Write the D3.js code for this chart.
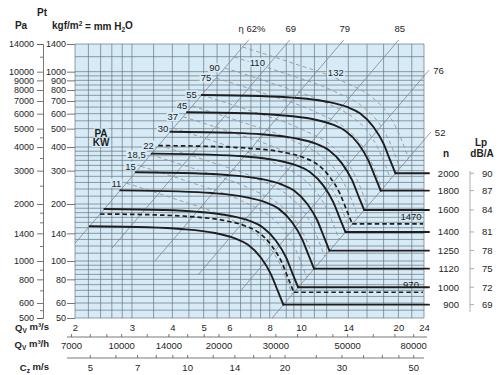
<!DOCTYPE html>
<html>
<head>
<script src="https://d3js.org/d3.v7.min.js"></script>
<title>Fan performance chart</title>
<style>
	body { margin: 0; background: #fff; }
	svg { display: block; font-family: "Liberation Sans", Arial, Helvetica, sans-serif; }
</style>
</head>
<body>
<svg width="500" height="375"></svg>
<script>
// fan speeds (rpm) and their pressure curves, Qv in m3/s, Pt in kgf/m2
const rpm = [2000, 1800, 1600, 1470, 1400, 1250, 1120, 1000, 970, 900];
const optionalRpm = [1470, 970];
const curveQ = [
	[4.93, 7.47, 9.44, 12.04, 13.87, 15.21, 16.73, 17.96, 18.84, 19.59],
	[4.44, 6.72, 8.50, 10.84, 12.48, 13.69, 15.06, 16.16, 16.96, 17.63],
	[3.94, 5.98, 7.55, 9.63, 11.10, 12.17, 13.38, 14.37, 15.07, 15.67],
	[3.62, 5.49, 6.94, 8.85, 10.19, 11.18, 12.30, 13.20, 13.85, 14.40],
	[3.45, 5.23, 6.61, 8.43, 9.71, 10.65, 11.71, 12.57, 13.19, 13.71],
	[3.08, 4.67, 5.90, 7.53, 8.67, 9.51, 10.46, 11.23, 11.78, 12.24],
	[2.76, 4.18, 5.29, 6.74, 7.77, 8.52, 9.37, 10.06, 10.55, 10.97],
	[2.465, 3.735, 4.72, 6.02, 6.935, 7.605, 8.365, 8.98, 9.42, 9.795],
	[2.39, 3.62, 4.58, 5.84, 6.73, 7.38, 8.11, 8.71, 9.14, 9.50],
	[2.22, 3.36, 4.25, 5.42, 6.24, 6.84, 7.53, 8.08, 8.48, 8.82]
];
const curvePt = [
	[753, 744, 729, 694, 651, 603, 512, 419, 342, 290.6],
	[610, 603, 590, 562, 527, 488, 415, 339, 277, 235.4],
	[482, 476, 467, 444, 417, 386, 328, 268, 219, 186.0],
	[406.8, 401.9, 393.8, 374.9, 351.7, 325.7, 276.6, 226.3, 184.7, 157.0],
	[369, 364.6, 357.2, 340.1, 319.0, 295.5, 250.9, 205.3, 167.6, 142.4],
	[294.1, 290.6, 284.8, 271.1, 254.3, 235.5, 200.0, 163.7, 133.6, 113.5],
	[236.1, 233.3, 228.6, 217.6, 204.2, 189.1, 160.6, 131.4, 107.3, 91.1],
	[188.3, 186, 182.3, 173.5, 162.8, 150.8, 128, 104.8, 85.5, 72.65],
	[177.1, 175.0, 171.5, 163.2, 153.1, 141.8, 120.4, 98.6, 80.4, 68.4],
	[152.5, 150.7, 147.6, 140.5, 131.8, 122.1, 103.7, 84.8, 69.3, 58.8]
];

// sound pressure level per speed
const lpRpm = [2000, 1800, 1600, 1400, 1250, 1120, 1000, 900];
const lpDb = [90, 87, 84, 81, 78, 75, 72, 69];

// absorbed power curves (kW)
const kw = [11, 15, 18.5, 22, 30, 37, 45, 55, 75, 90, 110, 132];
const kwQ = [
	[2.883, 4.012, 5.933, 7.287, 8.015, 8.605, 9.386],
	[3.197, 4.448, 6.577, 8.081, 8.889, 9.542, 10.408],
	[3.428, 4.771, 7.054, 8.667, 9.533, 10.234, 11.163],
	[3.632, 5.055, 7.473, 9.182, 10.100, 10.842, 11.827],
	[4.028, 5.605, 8.288, 10.182, 11.199, 12.022, 13.114],
	[4.319, 6.013, 8.888, 10.919, 12.010, 12.893, 14.064],
	[4.611, 6.416, 9.486, 11.655, 12.820, 13.763, 15.012],
	[4.93, 6.860, 10.142, 12.461, 13.707, 14.715, 16.050],
	[5.467, 7.607, 11.248, 13.820, 15.201, 16.318, 17.799],
	[5.810, 8.085, 11.952, 14.685, 16.153, 17.340, 18.914],
	[6.211, 8.644, 12.779, 15.701, 17.270, 18.540, 20.223],
	[6.601, 9.185, 13.580, 16.684, 18.351, 19.700, 21.488]
];
const kwPt = [
	[257.5, 214.6, 168.6, 138.4, 117.5, 96.2, 66.7],
	[316.7, 263.8, 207.2, 170.2, 144.5, 118.3, 82.0],
	[364.1, 303.5, 238.3, 195.8, 166.2, 136.0, 94.4],
	[408.8, 340.7, 267.4, 219.8, 186.6, 152.7, 105.9],
	[502.8, 418.9, 328.9, 270.2, 229.4, 187.8, 130.2],
	[578.0, 482.0, 378.2, 310.8, 263.9, 216.0, 149.8],
	[658.9, 548.9, 430.8, 354.1, 300.6, 246.0, 170.6],
	[753, 627.4, 492.5, 404.8, 343.7, 281.3, 195.1],
	[926.1, 771.6, 605.7, 497.8, 422.7, 345.9, 239.9],
	[1045.8, 871.5, 683.9, 562.1, 477.3, 390.6, 270.9],
	[1195.3, 996.1, 781.9, 642.6, 545.6, 446.5, 309.7],
	[1349.9, 1124.9, 882.9, 725.5, 616.0, 504.1, 349.6]
];

// efficiency lines: end points (Qv, Pt)
const etaLabels = ["\u03b7 62%", "69", "79", "85", "76", "52"];
const etaQ = [[2, 6.9], [2.60, 9.23], [3.54, 13.55], [4.80, 20.04], [6.47, 24.9], [8.14, 25.2]];
const etaPt = [[124, 1476], [116.7, 1470], [100.4, 1470], [84.3, 1470], [68.9, 1020], [50, 480]];

// grid and tick values
const gridQ = [2, 2.2, 2.4, 2.6, 2.8, 3, 3.5, 4, 4.5, 5, 5.5, 6, 6.5, 7, 7.5, 8, 9, 9.5, 10, 11, 12, 14, 16, 18, 20, 22, 24];
const gridPt = [50, 55, 60, 65, 70, 75, 80, 85, 90, 95, 100, 110, 120, 130, 140, 150, 160, 170, 180, 190, 200,
	220, 240, 260, 280, 300, 320, 340, 360, 380, 400, 450, 500, 550, 600, 650, 700, 750, 800, 850, 900, 950, 1000, 1200, 1400];
const kgfTicks = [50, 60, 80, 100, 140, 200, 300, 400, 500, 600, 700, 800, 900, 1000, 1400];
const paTicks = [500, 600, 800, 1000, 1400, 2000, 3000, 4000, 5000, 6000, 7000, 8000, 9000, 10000, 14000];
const paMinor = [550, 700, 900, 1200, 1600, 1800, 2500, 3500, 4500, 12000];
const qsTicks = [2, 3, 4, 5, 6, 8, 10, 14, 20, 24];
const qhTicks = [7000, 10000, 14000, 20000, 30000, 50000, 80000];
const qhMinor = [8000, 9000, 12000, 16000, 18000, 25000, 35000, 40000, 45000, 60000, 70000];
const czTicks = [5, 7, 10, 14, 20, 30, 50];
const czMinor = [6, 8, 9, 12, 16, 18, 25, 35, 40, 45];

const svg = d3.select("svg");
const plotBg = "#d7ebf7", ink = "#1e1e1e";

const x = d3.scaleLog().domain([2, 24]).range([75, 424]);
const y = d3.scaleLog().domain([50, 1400]).range([318, 44]);
const yPa = d3.scaleLog().domain([500, 14000]).range([318, 44]);
const xh = d3.scaleLog().domain([2 * 3600, 24 * 3600]).range([75, 424]);
const xc = d3.scaleLog().domain([2 * 2.25, 24 * 2.25]).range([75, 424]);

svg.append("rect").attr("width", 500).attr("height", 375).attr("fill", "#fff");
svg.append("rect").attr("x", 75).attr("y", 44).attr("width", 349).attr("height", 274).attr("fill", plotBg);

// grid
const grid = svg.append("g").attr("stroke", "#5f6c75").attr("stroke-width", 0.65);
grid.selectAll(".h").data(gridPt).enter().append("line")
	.attr("x1", 75).attr("x2", 424)
	.attr("y1", d => y(d)).attr("y2", d => y(d));
grid.selectAll(".v").data(gridQ).enter().append("line")
	.attr("y1", 44).attr("y2", 318)
	.attr("x1", d => x(d)).attr("x2", d => x(d));

function styleAxis(g, size) {
	g.attr("font-family", null).attr("font-size", size).attr("color", ink);
	g.selectAll("line").attr("stroke", "#555").attr("stroke-width", 0.8);
}

// left axes
svg.append("g").attr("transform", "translate(75,0)")
	.call(d3.axisLeft(y).tickValues(kgfTicks).tickFormat(d3.format("d")).tickSize(8).tickPadding(1))
	.call(g => g.select(".domain").remove())
	.call(g => styleAxis(g, 9));
svg.append("g").attr("transform", "translate(43,0)")
	.call(d3.axisLeft(yPa).tickValues(paTicks).tickFormat(d3.format("d")).tickSize(6).tickPadding(3))
	.call(g => styleAxis(g, 9))
	.call(g => g.select(".domain").attr("stroke", "#555").attr("stroke-width", 0.8));
svg.append("g").attr("transform", "translate(43,0)")
	.call(d3.axisLeft(yPa).tickValues(paMinor).tickFormat("").tickSize(3))
	.call(g => g.select(".domain").remove())
	.call(g => styleAxis(g, 9));

// bottom axes
svg.append("g").attr("transform", "translate(0,318)")
	.call(d3.axisBottom(x).tickValues(qsTicks).tickFormat(d3.format("d")).tickSize(0).tickPadding(6))
	.call(g => g.select(".domain").remove())
	.call(g => styleAxis(g, 9.5));
svg.append("g").attr("transform", "translate(0,337)")
	.call(d3.axisBottom(xh).tickValues(qhTicks.concat(qhMinor)).tickFormat(d => qhTicks.includes(d) ? d : "").tickSize(-3).tickPadding(5))
	.call(g => g.select(".domain").remove())
	.call(g => styleAxis(g, 9.5));
svg.append("g").attr("transform", "translate(0,358)")
	.call(d3.axisBottom(xc).tickValues(czTicks.concat(czMinor)).tickFormat(d => czTicks.includes(d) ? d : "").tickSize(-3).tickPadding(6))
	.call(g => g.select(".domain").remove())
	.call(g => styleAxis(g, 9.5));
svg.append("line").attr("x1", 67).attr("x2", 427).attr("y1", 337).attr("y2", 337).attr("stroke", "#555").attr("stroke-width", 0.8);
svg.append("line").attr("x1", 67).attr("x2", 424).attr("y1", 358).attr("y2", 358).attr("stroke", "#555").attr("stroke-width", 0.8);

// efficiency lines
const etaG = svg.append("g");
etaQ.forEach(function(q, i) {
	const p = etaPt[i];
	etaG.append("line")
		.attr("x1", x(q[0])).attr("y1", y(p[0]))
		.attr("x2", x(q[1])).attr("y2", y(p[1]))
		.attr("stroke", "#7b878f").attr("stroke-width", 0.8);
	const t = etaG.append("text").attr("font-size", 9.5).attr("fill", ink).attr("dy", "0.35em").text(etaLabels[i]);
	if (i < 4) {
		t.attr("x", x(q[1]) + (i == 0 ? 3 : 1)).attr("y", y(p[1]) - 11).attr("text-anchor", "middle");
	} else {
		t.attr("x", x(q[1]) + 4).attr("y", y(p[1]) + 1);
	}
});

const line = d3.line().x(d => x(d[0])).y(d => y(d[1])).curve(d3.curveMonotoneX);

// power curves
const kwG = svg.append("g");
kw.forEach(function(v, i) {
	kwG.append("path")
		.attr("d", line(d3.zip(kwQ[i], kwPt[i])))
		.attr("fill", "none").attr("stroke", "#8d989f").attr("stroke-width", 0.9)
		.attr("stroke-dasharray", "4,3");
});

// speed curves
const nG = svg.append("g");
rpm.forEach(function(n, i) {
	const pts = d3.zip(curveQ[i], curvePt[i]);
	const dashed = optionalRpm.includes(n);
	const knee = pts[pts.length - 1];
	const tailEnd = dashed ? 423 : 429;
	[line(pts), "M" + x(knee[0]) + "," + y(knee[1]) + "H" + tailEnd].forEach(function(d) {
		nG.append("path").attr("d", d)
			.attr("fill", "none").attr("stroke", ink)
			.attr("stroke-width", dashed ? 1.7 : 1.9)
			.attr("stroke-dasharray", dashed ? "4.5,3" : null)
			.attr("stroke-linecap", dashed ? "butt" : "round");
	});
	const ty = y(knee[1]);
	if (dashed) {
		nG.append("text").attr("x", 411).attr("y", ty - 4).attr("text-anchor", "middle")
			.attr("font-size", 9.5).attr("fill", ink).text(n);
	} else {
		nG.append("text").attr("x", 459).attr("y", ty).attr("dy", "0.35em").attr("text-anchor", "end")
			.attr("font-size", 9.5).attr("fill", ink).text(n);
	}
});

// Lp column
const lpG = svg.append("g");
lpG.append("line").attr("x1", 470).attr("x2", 470).attr("y1", 171).attr("y2", 312).attr("stroke", "#999").attr("stroke-width", 0.8);
lpDb.forEach(function(v, i) {
	const k = rpm.indexOf(lpRpm[i]);
	const ty = y(curvePt[k][curvePt[k].length - 1]);
	lpG.append("line").attr("x1", 470).attr("x2", 474).attr("y1", ty).attr("y2", ty).attr("stroke", "#999").attr("stroke-width", 0.8);
	lpG.append("text").attr("x", 482).attr("y", ty).attr("dy", "0.35em").attr("font-size", 9.5).attr("fill", ink).text(v);
});

// labels sitting on the plot get a background patch
function boxedText(g, tx, ty, txt, anchor, opts) {
	const t = g.append("text").attr("x", tx).attr("y", ty).attr("dy", "0.35em")
		.attr("text-anchor", anchor).attr("font-size", opts && opts.size || 9.5)
		.attr("font-weight", opts && opts.bold ? "bold" : null)
		.attr("fill", ink).text(txt);
	const b = t.node().getBBox();
	g.insert("rect", () => t.node())
		.attr("x", b.x - 1).attr("y", b.y + 1).attr("width", b.width + 2).attr("height", b.height - 2)
		.attr("fill", plotBg);
	return t;
}

const labG = svg.append("g");
const inlineKw = { 110: [0, 0.5, -2], 132: [1, 0.85, -6] };
kw.forEach(function(v, i) {
	const txt = String(v).replace(".", ",");
	if (inlineKw[v]) {
		const [j, t, off] = inlineKw[v];
		const x0 = x(kwQ[i][j]), y0 = y(kwPt[i][j]);
		const x1 = x(kwQ[i][j + 1]), y1 = y(kwPt[i][j + 1]);
		boxedText(labG, x0 + (x1 - x0) * t, y0 + (y1 - y0) * t + off, txt, "middle");
	} else {
		boxedText(labG, x(kwQ[i][0]) - 5, y(kwPt[i][0]), txt, "end");
	}
});
boxedText(labG, 101, 133, "PA", "middle", { bold: true, size: 10 });
boxedText(labG, 101, 142.5, "KW", "middle", { bold: true, size: 10 });

// axis titles
const titles = svg.append("g").attr("font-weight", "bold").attr("font-size", 10).attr("fill", ink);
titles.append("text").attr("x", 42).attr("y", 12).attr("dy", "0.35em").attr("text-anchor", "middle").text("Pt");
titles.append("text").attr("x", 21).attr("y", 25).attr("dy", "0.35em").attr("text-anchor", "middle").text("Pa");
const kgfT = titles.append("text").attr("x", 52).attr("y", 25).attr("dy", "0.35em");
kgfT.append("tspan").text("kgf/m");
kgfT.append("tspan").attr("font-size", 6.5).attr("dy", "-0.45em").text("2");
kgfT.append("tspan").attr("dy", "0.45em").text(" = mm H");
kgfT.append("tspan").attr("font-size", 6.5).attr("dy", "0.3em").text("2");
kgfT.append("tspan").attr("dy", "-0.3em").text("O");

function bottomTitle(ty, main, sub, unit) {
	const t = titles.append("text").attr("x", 49).attr("y", ty).attr("dy", "0.35em").attr("text-anchor", "end").attr("font-size", 9.5);
	t.append("tspan").text(main);
	t.append("tspan").attr("font-size", 6.5).attr("dy", "0.3em").text(sub);
	t.append("tspan").attr("dy", "-0.3em").text(unit);
}
bottomTitle(328, "Q", "V", " m\u00b3/s");
bottomTitle(345, "Q", "V", " m\u00b3/h");
bottomTitle(367.5, "C", "z", " m/s");

titles.append("text").attr("x", 446).attr("y", 153).attr("dy", "0.35em").attr("text-anchor", "middle").text("n");
titles.append("text").attr("x", 481).attr("y", 142).attr("dy", "0.35em").attr("text-anchor", "middle").text("Lp");
titles.append("text").attr("x", 482).attr("y", 153).attr("dy", "0.35em").attr("text-anchor", "middle").text("dB/A");
</script>
</body>
</html>
